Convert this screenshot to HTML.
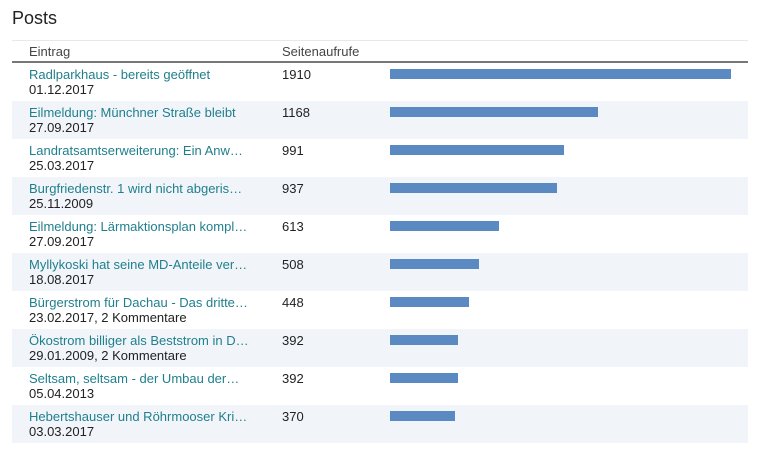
<!DOCTYPE html>
<html><head><meta charset="utf-8"><style>
body{margin:0;width:765px;height:453px;background:#fff;font-family:"Liberation Sans",Arial,sans-serif;position:relative;overflow:hidden}
.a{position:absolute;white-space:nowrap}
.t{left:12px;top:8px;font-size:18px;color:#222}
.row{position:absolute;left:12px;width:736px;height:38px}
.sh{background:#f1f5fa}
.l{position:absolute;left:17px;top:4px;font-size:13px;color:#1f7f8c;line-height:15px}
.d{position:absolute;left:17px;top:19px;font-size:13px;color:#222;line-height:15px}
.n{position:absolute;left:270px;top:4px;font-size:13px;color:#222;line-height:15px}
.b{position:absolute;left:378px;top:6px;height:10px;background:#5b8ac2}
</style></head><body>
<div class="a t">Posts</div>
<div class="a" style="left:12px;top:40px;width:736px;height:1px;background:#e8e8e8"></div>
<div class="a" style="left:29px;top:44px;font-size:13px;color:#444">Eintrag</div>
<div class="a" style="left:282px;top:44px;font-size:13px;color:#444">Seitenaufrufe</div>
<div class="a" style="left:12px;top:61px;width:736px;height:2px;background:#777"></div>

<div class="row" style="top:63px"><div class="l">Radlparkhaus - bereits geöffnet</div><div class="d">01.12.2017</div><div class="n">1910</div><div class="b" style="width:341px"></div></div>
<div class="row sh" style="top:101px"><div class="l">Eilmeldung: Münchner Straße bleibt</div><div class="d">27.09.2017</div><div class="n">1168</div><div class="b" style="width:208px"></div></div>
<div class="row" style="top:139px"><div class="l">Landratsamtserweiterung: Ein Anw…</div><div class="d">25.03.2017</div><div class="n">991</div><div class="b" style="width:174px"></div></div>
<div class="row sh" style="top:177px"><div class="l">Burgfriedenstr. 1 wird nicht abgeris…</div><div class="d">25.11.2009</div><div class="n">937</div><div class="b" style="width:167px"></div></div>
<div class="row" style="top:215px"><div class="l">Eilmeldung: Lärmaktionsplan kompl…</div><div class="d">27.09.2017</div><div class="n">613</div><div class="b" style="width:109px"></div></div>
<div class="row sh" style="top:253px"><div class="l">Myllykoski hat seine MD-Anteile ver…</div><div class="d">18.08.2017</div><div class="n">508</div><div class="b" style="width:89px"></div></div>
<div class="row" style="top:291px"><div class="l">Bürgerstrom für Dachau - Das dritte…</div><div class="d">23.02.2017, 2 Kommentare</div><div class="n">448</div><div class="b" style="width:79px"></div></div>
<div class="row sh" style="top:329px"><div class="l">Ökostrom billiger als Beststrom in D…</div><div class="d">29.01.2009, 2 Kommentare</div><div class="n">392</div><div class="b" style="width:68px"></div></div>
<div class="row" style="top:367px"><div class="l">Seltsam, seltsam - der Umbau der…</div><div class="d">05.04.2013</div><div class="n">392</div><div class="b" style="width:68px"></div></div>
<div class="row sh" style="top:405px"><div class="l">Hebertshauser und Röhrmooser Kri…</div><div class="d">03.03.2017</div><div class="n">370</div><div class="b" style="width:65px"></div></div>
</body></html>
